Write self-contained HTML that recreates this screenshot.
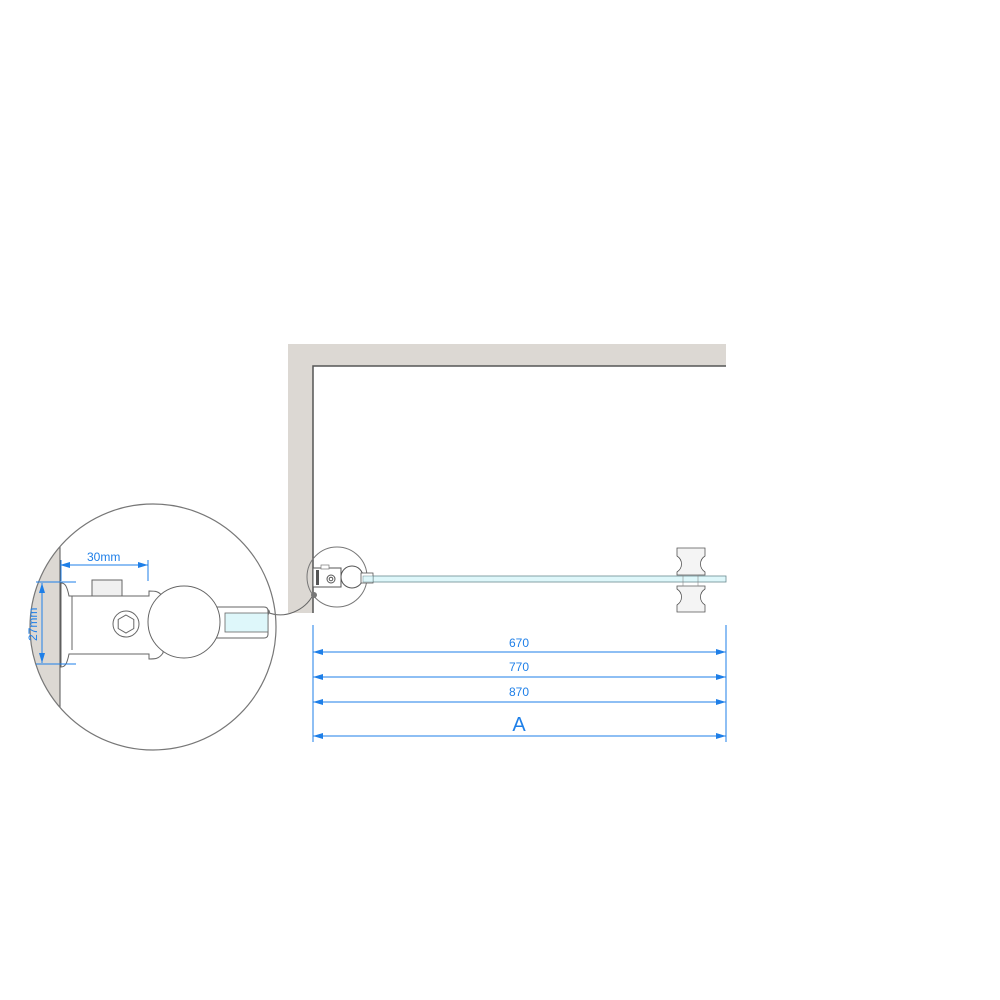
<!DOCTYPE html>
<html><head><style>body{margin:0;background:#fff}svg{display:block}text{font-family:"Liberation Sans",sans-serif;fill:#1e7fe8}</style></head><body>
<svg width="1000" height="1000" viewBox="0 0 1000 1000" xmlns="http://www.w3.org/2000/svg">
<defs>
<clipPath id="c"><circle cx="153" cy="627" r="123"/></clipPath>
<marker id="ar" viewBox="0 0 10 6" refX="10" refY="3" markerWidth="10" markerHeight="6" orient="auto-start-reverse" markerUnits="userSpaceOnUse"><path d="M0,0L10,3L0,6z" fill="#1e7fe8"/></marker>
</defs>
<path d="M288,344H726V366H313V613H288Z" fill="#dcd8d3"/>
<path d="M726,366H313V613" fill="none" stroke="#555" stroke-width="1.5"/>
<rect x="360" y="576" width="366" height="6" fill="#def7fa" stroke="#6a8a90" stroke-width="0.8"/>
<circle cx="337" cy="577" r="30" fill="none" stroke="#777" stroke-width="1"/>
<rect x="313" y="568" width="28" height="19" fill="#fff" stroke="#555"/>
<rect x="316" y="570" width="3" height="15" fill="#555"/>
<rect x="321" y="565" width="8" height="4" fill="#fff" stroke="#777" stroke-width="0.7"/>
<circle cx="331" cy="579" r="4" fill="none" stroke="#555"/><circle cx="331" cy="579" r="1.8" fill="none" stroke="#555"/>
<circle cx="352" cy="577" r="11" fill="#fff" stroke="#555"/>
<rect x="361" y="573" width="12" height="10" fill="#fff" stroke="#555" stroke-width="0.8"/>
<rect x="363" y="576" width="10" height="6" fill="#def7fa" stroke="#6a8a90" stroke-width="0.5"/>
<g stroke="#555" stroke-width="0.8" fill="#f4f4f4">
<path d="M677,548h28v8c-6,4-6,12,0,16v3h-28v-3c6-4,6-12,0-16z"/>
<path d="M677,586h28v3c-6,4-6,12,0,16v7h-28v-7c6-4,6-12,0-16z"/>
</g>
<rect x="683" y="575" width="15" height="11" fill="none" stroke="#888" stroke-width="0.6"/>
<path d="M267,612C285,620 305,610 313,595" fill="none" stroke="#666" stroke-width="1"/>
<circle cx="267" cy="612" r="3" fill="#777"/><circle cx="314" cy="595" r="3" fill="#777"/>
<g clip-path="url(#c)">
<rect x="20" y="500" width="40" height="260" fill="#dcd8d3"/>
<line x1="60" y1="500" x2="60" y2="760" stroke="#555" stroke-width="1"/>
</g>
<circle cx="153" cy="627" r="123" fill="none" stroke="#777" stroke-width="1.2"/>
<g stroke="#666" stroke-width="1" fill="#fff">
<path d="M61,583c4,0 6,3 8,13h80v-5c6,0 10,0 14,6v56c-4,6-8,6-14,6v-5h-80c-2,10-4,13-8,13z"/>
<rect x="92" y="580" width="30" height="16" fill="#f0f0f0"/>
<path d="M212,607h52q4,0 4,4v23q0,4-4,4h-52"/>
<circle cx="184" cy="622" r="36"/>
<circle cx="126" cy="624" r="13"/>
<path d="M126,615l7.8,4.5v9l-7.8,4.5l-7.8-4.5v-9z"/>
<line x1="72" y1="596" x2="72" y2="650"/>
</g>
<rect x="225" y="613" width="43" height="19" fill="#def7fa" stroke="#666" stroke-width="0.8"/>
<line x1="60" y1="565" x2="148" y2="565" stroke="#1e7fe8" marker-start="url(#ar)" marker-end="url(#ar)"/>
<line x1="148" y1="560" x2="148" y2="581" stroke="#1e7fe8"/>
<line x1="61" y1="560" x2="61" y2="581" stroke="#1e7fe8"/>
<text x="87" y="561" font-size="12">30mm</text>
<line x1="42" y1="583" x2="42" y2="663" stroke="#1e7fe8" marker-start="url(#ar)" marker-end="url(#ar)"/>
<line x1="36" y1="582" x2="76" y2="582" stroke="#1e7fe8"/><line x1="36" y1="664" x2="76" y2="664" stroke="#1e7fe8"/>
<text x="0" y="0" font-size="12" transform="translate(37,641) rotate(-90)">27mm</text>
<g stroke="#1e7fe8" stroke-width="1">
<line x1="313" y1="625" x2="313" y2="742"/><line x1="726" y1="625" x2="726" y2="742"/>
<line x1="313" y1="652" x2="726" y2="652" marker-start="url(#ar)" marker-end="url(#ar)"/>
<line x1="313" y1="677" x2="726" y2="677" marker-start="url(#ar)" marker-end="url(#ar)"/>
<line x1="313" y1="702" x2="726" y2="702" marker-start="url(#ar)" marker-end="url(#ar)"/>
<line x1="313" y1="736" x2="726" y2="736" marker-start="url(#ar)" marker-end="url(#ar)"/>
</g>
<text x="519" y="647" font-size="12" text-anchor="middle">670</text>
<text x="519" y="671" font-size="12" text-anchor="middle">770</text>
<text x="519" y="696" font-size="12" text-anchor="middle">870</text>
<text x="519" y="731" font-size="20" text-anchor="middle">A</text>
</svg>
</body></html>
